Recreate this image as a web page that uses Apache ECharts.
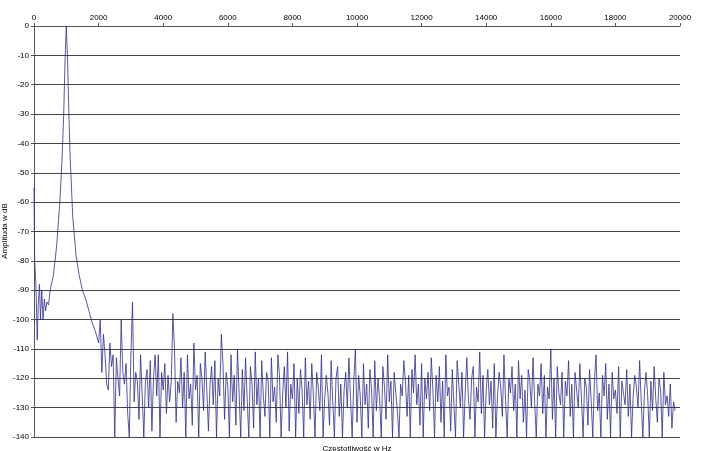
<!DOCTYPE html>
<html><head><meta charset="utf-8">
<script src="https://cdn.jsdelivr.net/npm/echarts@6/dist/echarts.min.js"></script>
<style>html,body{margin:0;background:#fff}#c{width:705px;height:451px}</style>
</head><body><div id="c"></div>
<script>
const peakFreq = [0,20,60,100,130,170,200,240,280,320,360,400,450,500,600,700,800,870,920,960,1000,1040,1080,1120,1200,1300,1400,1500,1600,1700,1800,1900,2000,2050];
const peakDb = [-55,-80,-88,-107,-95,-88,-100,-90,-100,-93,-97,-94,-95,-90,-85,-75,-60,-45,-30,-12,0,-12,-30,-45,-65,-78,-85,-90,-93,-97,-101,-104,-108,-100];
const noiseStart = 2100, noiseStep = 50;
const noiseDb = [
-118,-105,-112,-122,-124,-108,-116,-112,-140,-113,-120,-126,-100,-118,-122,-115,-132,-140,-112,-94,-128,-118,-121,-134,-112,-126,-140,-121,-117,-130,
-114,-138,-120,-112,-126,-112,-140,-118,-124,-115,-132,-119,-128,-121,-98,-110,-135,-121,-125,-113,-130,-118,-140,-112,-127,-122,-136,-108,-124,-119,
-140,-115,-120,-131,-111,-124,-138,-122,-116,-129,-114,-140,-120,-126,-105,-115,-134,-118,-123,-140,-112,-128,-119,-136,-110,-125,-140,-117,-131,-113,
-127,-140,-116,-122,-137,-111,-129,-120,-140,-114,-126,-133,-118,-121,-140,-113,-128,-123,-135,-112,-119,-140,-125,-116,-130,-111,-138,-122,-127,-115,
-140,-120,-132,-117,-124,-140,-113,-129,-121,-134,-115,-126,-140,-118,-123,-131,-112,-140,-127,-119,-125,-136,-114,-128,-140,-120,-116,-133,-122,-140,
-124,-118,-130,-113,-127,-140,-121,-110,-135,-119,-126,-140,-115,-129,-122,-137,-117,-124,-140,-114,-131,-120,-127,-140,-116,-123,-134,-112,-128,-121,
-140,-118,-125,-131,-140,-122,-126,-114,-121,-133,-119,-140,-117,-125,-112,-129,-122,-136,-115,-140,-120,-127,-118,-131,-113,-124,-140,-119,-128,-116,
-135,-121,-140,-112,-126,-123,-138,-117,-129,-140,-114,-122,-130,-118,-140,-125,-113,-127,-134,-120,-116,-140,-123,-128,-111,-132,-119,-140,-124,-117,
-129,-121,-137,-115,-140,-126,-118,-123,-133,-112,-128,-140,-120,-125,-116,-131,-122,-140,-114,-127,-119,-135,-124,-140,-117,-121,-130,-113,-128,-140,
-122,-126,-115,-132,-119,-140,-123,-127,-110,-134,-120,-140,-116,-125,-129,-118,-140,-121,-126,-114,-133,-122,-140,-118,-124,-130,-115,-127,-140,-120,
-123,-136,-117,-128,-140,-121,-112,-131,-125,-140,-119,-126,-115,-134,-122,-140,-118,-127,-124,-132,-116,-140,-121,-125,-129,-117,-133,-122,-140,-126,
-119,-123,-130,-114,-128,-140,-124,-118,-126,-140,-121,-131,-116,-127,-135,-120,-124,-140,-118,-129,-126,-133,-122,-137,-128,-131];
const data = peakFreq.map((f,i)=>[f,peakDb[i]]);
noiseDb.forEach((v,i)=>{const f=noiseStart+i*noiseStep; if(f<=20000) data.push([f, v]);});
const chart = echarts.init(document.getElementById('c'));
chart.setOption({
  animation:false,
  grid:{left:34,right:25,top:26,bottom:14,outerBoundsMode:'none',containLabel:false},
  graphic:[{type:'text',x:5,y:231,rotation:Math.PI/2,
    style:{text:'Amplituda w dB',fontSize:8,fill:'#000',fontFamily:'Liberation Sans',align:'center',verticalAlign:'middle'}}],
  xAxis:{type:'value',position:'top',min:0,max:20000,interval:2000,
    name:'Częstotliwość w Hz',nameLocation:'middle',nameGap:-427,
    nameTextStyle:{fontSize:8,color:'#000',fontFamily:'Liberation Sans'},
    axisLine:{lineStyle:{color:'#555'}},axisTick:{show:true,length:3,lineStyle:{color:'#555'}},
    axisLabel:{fontSize:8,color:'#000',margin:4,fontFamily:'Liberation Sans',formatter:v=>String(v)},splitLine:{show:false}},
  yAxis:{type:'value',min:-140,max:0,interval:10,
    axisLine:{show:true,lineStyle:{color:'#555'}},axisTick:{show:true,length:3,lineStyle:{color:'#555'}},
    axisLabel:{fontSize:8,color:'#000',margin:5,fontFamily:'Liberation Sans'},
    splitLine:{lineStyle:{color:'#444',width:1}}},
  series:[{type:'line',data:data,symbol:'none',lineStyle:{color:'#2e2e8c',width:0.8},clip:true}]
});
</script></body></html>
